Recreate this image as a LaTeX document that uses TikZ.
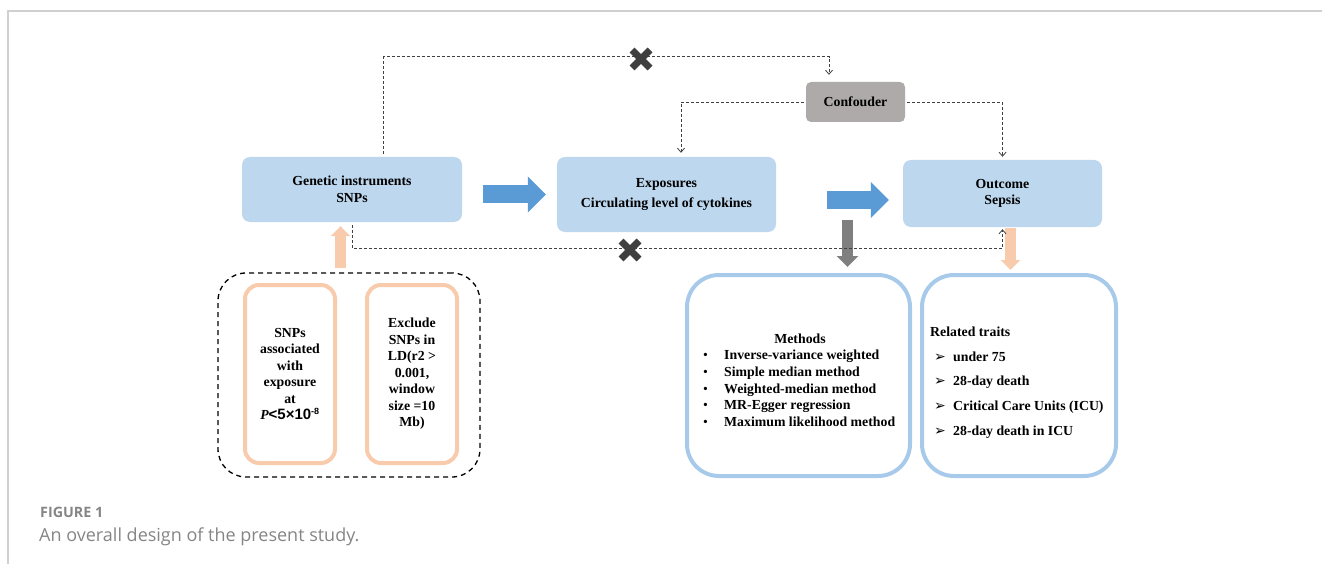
\documentclass[tikz,border=0pt]{standalone}
\usepackage{fontspec}
\setmainfont{Liberation Serif}
\newfontfamily\arialf{Liberation Sans}
\newfontfamily\dejavu{DejaVu Sans}
\newfontfamily\capfont{Open Sans}
\usetikzlibrary{arrows.meta,calc}
\definecolor{boxblue}{HTML}{BDD7EE}
\definecolor{arrblue}{HTML}{5B9BD5}
\definecolor{confgray}{HTML}{AEAAAA}
\definecolor{arrgray}{HTML}{7F7F7F}
\definecolor{peach}{HTML}{F8CBAD}
\definecolor{lineblue}{HTML}{A7CAEA}
\definecolor{xgray}{HTML}{3F3F3F}
\definecolor{dgray}{HTML}{404040}
\definecolor{capgray}{HTML}{858585}
\definecolor{framegray}{HTML}{D0D0D0}
\begin{document}
\begin{tikzpicture}[x=1pt,y=-1pt,
  every node/.style={font=\fontsize{13.8}{16.5}\selectfont\bfseries, inner sep=0pt},
  topbox/.style={fill=boxblue, rounded corners=8pt, align=center},
  peachbox/.style={draw=peach, line width=4pt, rounded corners=14pt, align=center, minimum width=90pt, minimum height=178pt},
  bluebox/.style={draw=lineblue, line width=4pt, rounded corners=32pt, minimum height=201pt},
  dconn/.style={draw=dgray, line width=0.8pt, dash pattern=on 3pt off 2pt},
  dtip/.style={-{Straight Barb[length=4pt,width=7pt]}},
  bigblue/.style={draw=arrblue, line width=18pt, -{Triangle[length=18pt,width=35pt]}},
  grayarrow/.style={draw=arrgray, line width=11pt, -{Triangle[length=11pt,width=21pt]}},
  peacharrow/.style={draw=peach, line width=11pt, -{Triangle[length=10pt,width=19pt]}},
  xmark/.pic={\draw[xgray, line width=7pt] (-9,-9) -- (9,9) (-9,9) -- (9,-9);}
]
\useasboundingbox (0,0) rectangle (1322,564);
% frame
\draw[framegray, line width=1.5pt] (7,11) -- (1322,11);
\draw[framegray, line width=1.5pt] (8,11) -- (8,564);

% main boxes
\node[topbox, minimum width=220pt, minimum height=65pt] (gen) at (352,189.5) {Genetic instruments\\SNPs};
\node[topbox, minimum width=219pt, minimum height=75pt] (exp) at (666.5,194.5) {Exposures\\[3.5pt]Circulating level of cytokines};
\node[topbox, minimum width=199pt, minimum height=67pt] (out) at (1002.5,193.5) {Outcome\\Sepsis};
\node[fill=confgray, rounded corners=5pt, minimum width=99pt, minimum height=40pt] (conf) at (855.5,102) {Confouder};

% lower left group
\node[draw=black, line width=1.3pt, dash pattern=on 5pt off 4pt, rounded corners=28pt, minimum width=262pt, minimum height=204pt] (dbox) at (349,375) {};
\node[peachbox] (snp) at (290,374) {SNPs\\associated\\with\\exposure\\at\\{\itshape P}{\arialf\fontsize{15}{16.5}\selectfont<5×10\textsuperscript{\fontsize{9}{9}\selectfont -8}}};
\node[peachbox] (ld) at (412,374) {Exclude\\SNPs in\\LD(r2 \textgreater\\0.001,\\window\\size =10\\Mb)};

% lower right boxes
\node[bluebox, minimum width=223pt] (meth) at (798.5,375.5) {};
\node[bluebox, minimum width=194pt] (rel) at (1019,375.5) {};
\node (mh) at (800,339) {Methods};
\node[anchor=west, align=left, font=\fontsize{13.8}{16.7}\selectfont\bfseries] (ml) at (703,388.5) {%
\makebox[21pt][l]{\mdseries•}Inverse-variance weighted\\
\makebox[21pt][l]{\mdseries•}Simple median method\\
\makebox[21pt][l]{\mdseries•}Weighted-median method\\
\makebox[21pt][l]{\mdseries•}MR-Egger regression\\
\makebox[21pt][l]{\mdseries•}Maximum likelihood method};
\node[anchor=west] (rh) at (930,332) {Related traits};
\node[anchor=west, align=left, font=\fontsize{13.8}{24.7}\selectfont\bfseries] (rl) at (934,395) {%
\makebox[19pt][l]{\dejavu\fontsize{14}{14}\selectfont ➢}under 75\\
\makebox[19pt][l]{\dejavu\fontsize{14}{14}\selectfont ➢}28-day death\\
\makebox[19pt][l]{\dejavu\fontsize{14}{14}\selectfont ➢}Critical Care Units (ICU)\\
\makebox[19pt][l]{\dejavu\fontsize{14}{14}\selectfont ➢}28-day death in ICU};

% block arrows
\draw[bigblue, shorten <=21pt, shorten >=11pt] (gen.east |- exp.west) -- (exp.west);
\draw[bigblue, shorten <=51pt, shorten >=14pt] ($(exp.east)+(0,5.5)$) -- ($(out.west |- exp.east)+(0,5.5)$);
\draw[grayarrow, shorten >=6pt] ($(meth.north)+(49,-53)$) -- ($(meth.north)+(49,0)$);
\draw[peacharrow, shorten >=3pt] ($(out.south)+(8,1)$) -- ($(out.south |- rel.north)+(8,0)$);
\draw[peacharrow, shorten >=4pt] ($(dbox.north)+(-8.5,-4)$) -- ($(dbox.north |- gen.south)+(-8.5,0)$);

% dashed connectors
\draw[dconn, dtip] ($(gen.north)+(31.5,-3)$) |- ($(conf.north)+(-26.5,-25)$) -- ($(conf.north)+(-26.5,-7)$);
\draw[dconn, dtip] ($(conf.west)+(-2,0)$) -| ($(exp.north)+(14.5,-4)$);
\draw[dconn, dtip] ($(conf.east)+(2,0)$) -| ($(out.north)+(0,-3)$);
\draw[dconn, dtip] ($(gen.south)+(0,3)$) -- ++(0,23) -| ($(out.south)+(0,2)$);
\pic at (641,59) {xmark};
\pic at (630,250) {xmark};

% caption
\node[anchor=west, font=\capfont\bfseries\fontsize{14.3}{14}\selectfont, text=capgray] (cap1) at (40,512) {FIGURE 1};
\node[anchor=west, font=\capfont\fontsize{18}{18}\selectfont, text=capgray] (cap2) at (39,537) {An overall design of the present study.};
\end{tikzpicture}
\end{document}
